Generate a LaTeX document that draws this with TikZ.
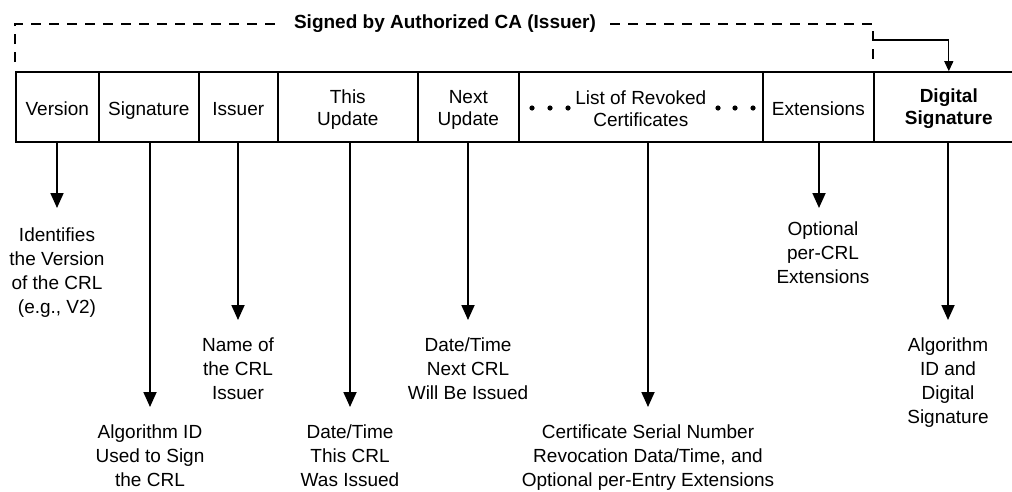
\documentclass[tikz,border=0pt]{standalone}
\usepackage{fontspec}
\setmainfont{Liberation Sans}
\usetikzlibrary{arrows.meta}
\newcommand\cellstrut{\rule{0pt}{18pt}}
\begin{document}
\begin{tikzpicture}[x=1pt,y=-1pt,
  every node/.style={font=\fontsize{19}{24}\selectfont},
  cell/.style={draw, line width=1.6pt, minimum height=70pt, inner sep=0pt, anchor=west, align=center, font=\fontsize{19}{22}\selectfont},
  one/.style={text height=18pt, text depth=2pt},
  lab/.style={anchor=north, inner sep=0pt, align=center},
  arr/.style={line width=1.8pt, shorten >=18pt, -{Triangle[length=15pt,width=13pt]}},
  sig/.style={line width=1.6pt, dash pattern=on 10pt off 8pt}]
\useasboundingbox (0,0) rectangle (1012,491);
% cells
\node[cell, one, minimum width=83pt]  (v)  at (15,107)  {Version};
\node[cell, one, minimum width=100pt] (s)  at (98,107)  {Signature};
\node[cell, one, minimum width=79pt]  (is) at (198,107) {Issuer};
\node[cell, minimum width=140pt] (tu) at (277,107) {\cellstrut This\\Update};
\node[cell, minimum width=101pt] (nu) at (417,107) {\cellstrut Next\\Update};
\node[cell, minimum width=244pt] (l)  at (518,107) {\cellstrut List of Revoked\\Certificates};
\node[cell, one, minimum width=111pt] (e)  at (762,107) {Extensions};
\node[cell, minimum width=150pt, font=\bfseries\fontsize{19}{22}\selectfont] (ds) at (873,107) {\cellstrut Digital\\Signature};
\foreach \x in {532,550,568,718,735,753} \fill (\x,108) circle (2.6pt);
% title and bracket
\node[font=\bfseries\fontsize{19}{24}\selectfont, inner xsep=14pt, inner ysep=0pt] (t) at (445,24) {Signed by Authorized CA (Issuer)};
\coordinate (bl) at (15,62);
\coordinate (tl) at (15,24);
\coordinate (tr) at (873,24);
\coordinate (br) at (873,62);
\coordinate (sj) at (873,40);
\draw[sig] (bl) -- (tl) -- (t.west);
\draw[sig] (t.east) -- (tr) -- (br);
\draw[line width=1.2pt, -{Triangle[length=10pt,width=9pt]}] (sj) -| (ds.north);
% labels
\node[lab] (lv)  at (57,228)  {Identifies\\the Version\\of the CRL\\(e.g., V2)};
\node[lab] (ls)  at (150,425) {Algorithm ID\\Used to Sign\\the CRL};
\node[lab] (lis) at (238,338) {Name of\\the CRL\\Issuer};
\node[lab] (ltu) at (350,425) {Date/Time\\This CRL\\Was Issued};
\node[lab] (lnu) at (468,338) {Date/Time\\Next CRL\\Will Be Issued};
\node[lab] (ll)  at (648,425) {Certificate Serial Number\\Revocation Data/Time, and\\Optional per-Entry Extensions};
\node[lab] (le)  at (823,222) {Optional\\per-CRL\\Extensions};
\node[lab] (lds) at (948,338) {Algorithm\\ID and\\Digital\\Signature};
% arrows
\draw[arr, shorten >=20pt] (lv.north |- v.south) -- (lv.north);
\draw[arr] (ls.north |- s.south) -- (ls.north);
\draw[arr] (lis.north |- is.south) -- (lis.north);
\draw[arr] (ltu.north |- tu.south) -- (ltu.north);
\draw[arr] (lnu.north |- nu.south) -- (lnu.north);
\draw[arr] (ll.north |- l.south) -- (ll.north);
\draw[arr, shorten >=14pt] ([xshift=-4pt]le.north |- e.south) -- ([xshift=-4pt]le.north);
\draw[arr] (lds.north |- ds.south) -- (lds.north);
\end{tikzpicture}
\end{document}
